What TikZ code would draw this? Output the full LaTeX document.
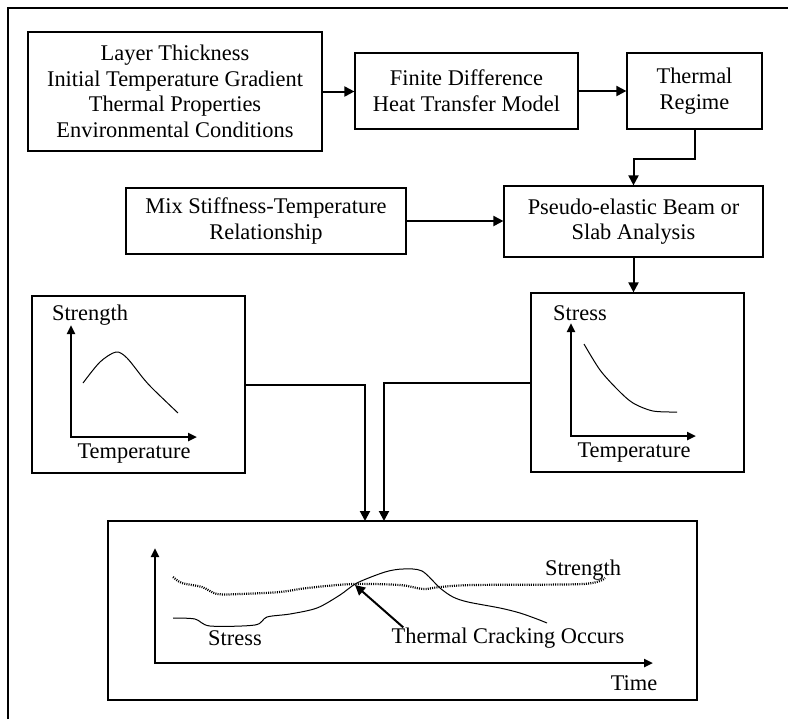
\documentclass[tikz,border=0pt]{standalone}
\usepackage{fontspec}
\setmainfont{Liberation Serif}
\usetikzlibrary{arrows.meta}
\begin{document}
\begin{tikzpicture}[x=.5pt,y=-.5pt,font=\fontsize{11.2}{12.8}\selectfont,
	box/.style={draw,line width=.6pt,align=center,inner sep=0pt},
	flow/.style={-{Triangle[length=5pt,width=5pt]},line width=1pt},
	axes/.style={{Triangle[length=4.5pt,width=4pt]}-{Triangle[length=4.5pt,width=4pt]},line width=1.3pt},
	lbl/.style={inner sep=0pt}]
	\useasboundingbox (0,0) rectangle (788,719);
	\draw[line width=.6pt] (8,719)--(8,8)--(788,8);
	\path
	(175,91.5) node[box,minimum width=147pt,minimum height=59.5pt](inputs){Layer Thickness\\Initial Temperature Gradient\\Thermal Properties\\Environmental Conditions}
	(466.5,91) node[box,minimum width=111.5pt,minimum height=38pt](fdm){Finite Difference\\Heat Transfer Model}
	(694.5,91) node[box,minimum width=67.5pt,minimum height=38pt](regime){Thermal\\Regime}
	(266,221) node[box,minimum width=140pt,minimum height=33pt](mix){Mix Stiffness-Temperature\\Relationship}
	(633.5,221.5) node[box,minimum width=129.5pt,minimum height=35.5pt](beam){Pseudo-elastic Beam or\\Slab Analysis}
	(138.5,384.5) node[box,minimum width=106.5pt,minimum height=88.5pt](strbox){}
	(637.5,382.5) node[box,minimum width=106.5pt,minimum height=89.5pt](stsbox){}
	(402.5,610.5) node[box,minimum width=294.5pt,minimum height=89.5pt](timebox){};
	\foreach \a/\b in {inputs/fdm,fdm/regime,mix/beam}
		\draw[flow] (\a.east) -- (\a.east -| \b.west);
	\draw[flow] (regime.south) -- ++(0,29) -| (beam.north);
	\draw[flow] (beam.south) -- (beam.south |- stsbox.north);
	\coordinate (jl) at (365,521);
	\coordinate (jr) at (384,521);
	\draw[flow] (strbox.east) -| (jl);
	\draw[flow] (stsbox.west) -| (jr);
	% strength against temperature
	\draw[axes] (71,325) -- (71,437) -- (197,437);
	\path (90,315) node[lbl](strY){Strength} (134,454) node[lbl](strX){Temperature};
	\draw[line width=.5pt] plot[smooth] coordinates {(83,383) (100,362) (116,352) (127,358) (143,378) (153,389) (178,413)};
	% stress against temperature
	\draw[axes] (571,323) -- (571,436) -- (696,436);
	\path (580,313) node[lbl](stsY){Stress} (634,453) node[lbl](stsX){Temperature};
	\draw[line width=.5pt] plot[smooth] coordinates {(584,344) (600,370) (618,390) (633,403) (653,411) (677,412)};
	% both against time
	\draw[axes] (155,548) -- (155,663) -- (653,663);
	\path (634,683) node[lbl](timeX){Time}
	(583,570) node[lbl](strC){Strength}
	(235,638) node[lbl](stsC){Stress}
	(508,638) node[lbl](crack){Thermal Cracking Occurs};
	\draw[line width=1.1pt,dash pattern=on .5pt off .6pt] plot[smooth,tension=.5] coordinates {(173,577) (182,583) (202,587) (217,594) (240,594) (280,592) (307,588) (353,584) (400,585) (423,589) (440,587) (473,585) (583,584) (605,578)};
	\draw[line width=.5pt] plot[smooth,tension=.5] coordinates {(173,618) (195,619) (210,626) (255,625) (267,617) (290,614) (317,608) (340,595) (357,583) (385,572) (403,569) (422,571) (440,588) (453,597) (468,602) (500,608) (520,613) (537,619) (547,623)};
	\coordinate (crackpt) at (355,585);
	\draw[flow] ([xshift=6pt]crack.north west) -- (crackpt);
\end{tikzpicture}
\end{document}
